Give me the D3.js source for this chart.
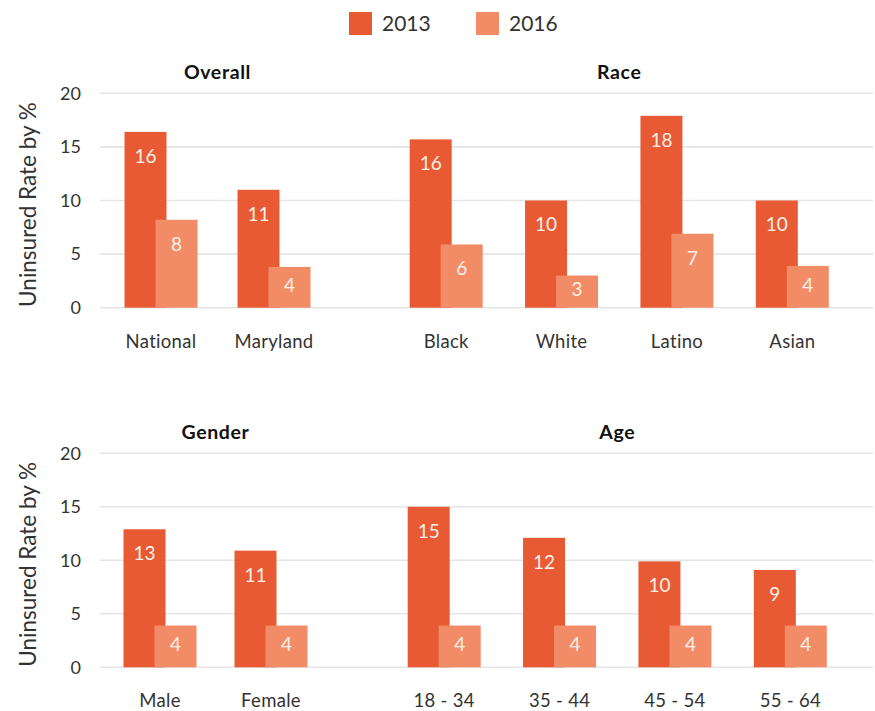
<!DOCTYPE html>
<html>
<head>
<meta charset="utf-8">
<script src="https://cdn.jsdelivr.net/npm/d3@7"></script>
<style>
  html, body { margin: 0; padding: 0; background: #fff; }
  svg { display: block; font-family: Lato, "Open Sans", sans-serif; }
</style>
</head>
<body>
<svg id="chart" width="875" height="711"></svg>
<script>
// ---- Data ----
const seriesNames = ["2013", "2016"];
const seriesColors = ["#E85A33", "#F28C67"];
const yTicks = [0, 5, 10, 15, 20];

const overallCats = ["National", "Maryland"];
const overall2013 = [16.4, 11.0];
const overall2016 = [8.2, 3.8];

const raceCats = ["Black", "White", "Latino", "Asian"];
const race2013 = [15.7, 10.0, 17.9, 10.0];
const race2016 = [5.9, 3.0, 6.9, 3.9];

const genderCats = ["Male", "Female"];
const gender2013 = [12.9, 10.9];
const gender2016 = [3.9, 3.9];

const ageCats = ["18 - 34", "35 - 44", "45 - 54", "55 - 64"];
const age2013 = [15.0, 12.1, 9.9, 9.1];
const age2016 = [3.9, 3.9, 3.9, 3.9];

// ---- Layout ----
const svg = d3.select("#chart");
const rows = [
  { top: 93.3, bottom: 307.7,
    panels: [
      { title: "Overall", cats: overallCats, vals: [overall2013, overall2016], range: [104.5, 330.5] },
      { title: "Race", cats: raceCats, vals: [race2013, race2016], range: [388.5, 850] }
    ] },
  { top: 453.3, bottom: 667.3,
    panels: [
      { title: "Gender", cats: genderCats, vals: [gender2013, gender2016], range: [104.5, 326.5] },
      { title: "Age", cats: ageCats, vals: [age2013, age2016], range: [386.5, 848] }
    ] }
];

const barW = 42;
const barOffsets = [-36.5, -5.5];
const textColor = "#333";
const ff = "Lato, 'Open Sans', sans-serif";

rows.forEach(row => {
  const y = d3.scaleLinear().domain([0, 20]).range([row.bottom, row.top]);

  // gridlines
  svg.append("g")
    .selectAll("line").data(yTicks).join("line")
    .attr("x1", 100).attr("x2", 873)
    .attr("y1", d => y(d)).attr("y2", d => y(d))
    .attr("stroke", "#e5e5e5").attr("stroke-width", 1.6);

  // y axis labels
  const yAxis = d3.axisLeft(y).tickValues(yTicks).tickSize(0).tickPadding(0);
  const ga = svg.append("g").attr("transform", "translate(81,0)").call(yAxis);
  ga.select(".domain").remove();
  ga.selectAll("text").attr("font-size", 18).attr("fill", textColor)
    .attr("font-family", ff);

  // y title
  svg.append("text")
    .attr("transform", `translate(36,${(row.top + row.bottom) / 2 + 4}) rotate(-90)`)
    .attr("text-anchor", "middle")
    .attr("font-size", 22.5).attr("fill", textColor)
    .text("Uninsured Rate by %");

  row.panels.forEach(p => {
    const x = d3.scaleBand().domain(p.cats).range(p.range).padding(0);
    const cx = c => x(c) + x.bandwidth() / 2;

    // title
    svg.append("text")
      .attr("x", (cx(p.cats[0]) + cx(p.cats[p.cats.length - 1])) / 2)
      .attr("y", row.top - 14)
      .attr("text-anchor", "middle")
      .attr("font-size", 19.5).attr("font-weight", "bold").attr("fill", "#111")
      .attr("letter-spacing", 0.6)
      .text(p.title);

    // x labels
    const xAxis = d3.axisBottom(x).tickSize(0).tickPadding(0);
    const gx = svg.append("g").attr("transform", `translate(0,${row.bottom + 40})`).call(xAxis);
    gx.select(".domain").remove();
    gx.selectAll("text").attr("font-size", 18.5).attr("fill", textColor)
      .attr("letter-spacing", 0.3)
      .attr("dy", "0").attr("font-family", ff);

    seriesNames.forEach((s, si) => {
      const data = p.cats.map((c, i) => ({ c, v: p.vals[si][i] }));
      const g = svg.append("g");
      g.selectAll("rect").data(data).join("rect")
        .attr("x", d => cx(d.c) + barOffsets[si])
        .attr("width", barW)
        .attr("y", d => y(d.v))
        .attr("height", d => y(0) - y(d.v))
        .attr("fill", seriesColors[si]);
      g.selectAll("text").data(data).join("text")
        .attr("x", d => cx(d.c) + barOffsets[si] + barW / 2)
        .attr("y", d => {
          const h = y(0) - y(d.v);
          return y(d.v) + Math.min(24, h / 2 - 2);
        })
        .attr("dy", "0.36em")
        .attr("text-anchor", "middle")
        .attr("font-size", 19).attr("fill", "#fdf0e8")
        .text(d => Math.round(d.v));
    });
  });
});

// legend
const legend = svg.append("g");
const legX = [349, 476];
seriesNames.forEach((s, i) => {
  legend.append("rect").attr("x", legX[i]).attr("y", 12).attr("width", 23).attr("height", 23)
    .attr("fill", seriesColors[i]);
  legend.append("text").attr("x", legX[i] + 33).attr("y", 23.5).attr("dy", "0.36em")
    .attr("font-size", 21).attr("fill", textColor).text(s);
});
</script>
</body>
</html>
